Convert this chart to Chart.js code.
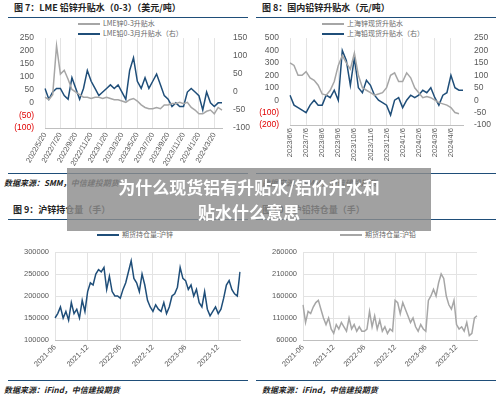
<!DOCTYPE html>
<html><head><meta charset="utf-8">
<script src="https://cdn.jsdelivr.net/npm/chart.js@4"></script>
<style>
body{margin:0;width:500px;height:400px;background:#fff;position:relative;overflow:hidden;font-family:"Noto Sans CJK SC",sans-serif}
.t{position:absolute;font-size:9px;font-weight:bold;color:#222;white-space:nowrap}
.s{position:absolute;font-size:8px;font-style:italic;font-weight:bold;color:#222;white-space:nowrap;font-family:"Noto Sans CJK SC","Liberation Serif",serif}
.h{position:absolute;height:1px;background:#1f4e79}
.c{position:absolute}
.lg{position:absolute;font-size:7px;color:#666;white-space:nowrap}
.lg i{display:inline-block;width:22px;height:2px;vertical-align:middle;margin-right:3px}
#ov{position:absolute;left:67px;top:168px;width:364px;height:63px;background:rgba(140,140,140,0.82);color:#fff;font-weight:bold;font-size:17px;text-align:center;line-height:25px;padding-top:6px;box-sizing:border-box}
</style></head><body>
<div class="t" style="left:14px;top:1px">图 7：LME 铅锌升贴水（0-3）（美元/吨）</div>
<div class="t" style="left:262px;top:1px">图 8：国内铅锌升贴水（元/吨）</div>
<div class="h" style="left:8px;top:17px;width:240px"></div>
<div class="h" style="left:256px;top:17px;width:240px"></div>
<div class="lg" style="left:78px;top:18px"><i style="background:#a6a6a6"></i>LME锌0-3升贴水</div>
<div class="lg" style="left:78px;top:28px"><i style="background:#1f4e79"></i>LME铅0-3月升贴水（右）</div>
<div class="lg" style="left:322px;top:18px"><i style="background:#a6a6a6"></i>上海锌现货升贴水</div>
<div class="lg" style="left:322px;top:28px"><i style="background:#1f4e79"></i>上海铅现货升贴水（右）</div>
<div class="h" style="left:8px;top:173px;width:240px"></div>
<div class="h" style="left:256px;top:173px;width:240px"></div>
<div class="s" style="left:4px;top:177px">数据来源：SMM，中信建投期货</div>
<div class="s" style="left:262px;top:177px">数据来源：SMM，中信建投期货</div>
<div class="t" style="left:13px;top:203px">图 9：沪锌持仓量（手）</div>
<div class="t" style="left:262px;top:203px">图 10：沪铅持仓量（手）</div>
<div class="h" style="left:8px;top:219px;width:240px"></div>
<div class="h" style="left:256px;top:219px;width:240px"></div>
<div class="lg" style="left:97px;top:229px"><i style="background:#1f4e79"></i>期货持仓量:沪锌</div>
<div class="lg" style="left:340px;top:229px"><i style="background:#a6a6a6"></i>期货持仓量:沪铅</div>
<div class="h" style="left:8px;top:380px;width:240px"></div>
<div class="h" style="left:256px;top:380px;width:240px"></div>
<div class="s" style="left:4px;top:384px">数据来源：iFind，中信建投期货</div>
<div class="s" style="left:262px;top:384px">数据来源：iFind，中信建投期货</div>
<div class="c" style="left:0;top:30px;width:250px;height:140px"><canvas id="c7"></canvas></div>
<div class="c" style="left:250px;top:30px;width:250px;height:140px"><canvas id="c8"></canvas></div>
<div class="c" style="left:0;top:240px;width:250px;height:130px"><canvas id="c9"></canvas></div>
<div class="c" style="left:250px;top:240px;width:250px;height:130px"><canvas id="c10"></canvas></div>
<div id="ov">为什么现货铝有升贴水/铝价升水和<br>贴水什么意思</div>
<script>
// ---- Chart 7 ----
const dates7 = [];
for (let y=2022,m=5,i=0;i<24;i++){ if(i>0)dates7.push(y+"/"+m+"/5"); dates7.push(y+"/"+m+"/20"); m++; if(m>12){m=1;y++;} }
const ticks7 = ["2022/5/20","2022/7/20","2022/9/20","2022/11/20","2023/1/20","2023/3/20","2023/5/20","2023/7/20","2023/9/20","2023/11/20","2024/1/20","2024/3/20"];
const zinc7 = [20,10,30,220,110,125,90,50,40,30,20,20,15,20,20,15,20,15,10,10,5,0,10,15,5,-10,-20,-25,-25,-20,-25,-10,-10,-5,-5,0,-5,0,-20,-30,-45,-45,-35,-30,-45,-20,-30];
const lead7 = [10,-20,0,10,10,-10,-20,40,10,-20,10,60,30,10,-10,0,10,20,10,20,0,-20,60,95,30,10,40,10,30,50,20,-10,-20,-40,-30,-40,-40,0,10,0,-10,-50,0,-30,-40,-30,-30];
// ---- Chart 8 ----
const dates8 = [];
for (let y=2023,m=6,i=0;i<11;i++){ for(const d of [6,13,20,27]) dates8.push(y+"/"+m+"/"+d); m++; if(m>12){m=1;y++;} }
const ticks8 = ["2023/6/6","2023/7/6","2023/8/6","2023/9/6","2023/10/6","2023/11/6","2023/12/6","2024/1/6","2024/2/6","2024/3/6","2024/4/6"];
const zinc8 = [300,280,200,200,230,180,160,120,50,40,80,150,280,360,300,250,380,200,100,80,60,40,50,60,100,200,220,150,150,220,180,100,60,20,30,20,0,-20,-30,-40,-60,-100,-110];
const lead8 = [20,-20,-30,-40,-50,-20,0,-20,-20,20,10,40,0,200,160,60,170,50,30,80,60,20,0,-10,-20,-60,0,10,-30,0,20,10,20,40,30,50,10,-20,20,30,100,50,40,40];
// ---- Chart 9/10 ----
const dates9 = [];
for (let y=2021,m=6,i=0;i<35;i++){ const s=y+"-"+String(m).padStart(2,"0"); dates9.push(s); if(i<34)dates9.push(s+"b"); m++; if(m>12){m=1;y++;} }
const ticks9 = ["2021-06","2021-12","2022-06","2022-12","2023-06","2023-12"];
const zincOI = [150,160,175,150,165,145,185,160,170,150,190,165,210,230,225,250,260,255,265,215,245,210,200,200,195,215,230,255,280,240,230,210,250,225,190,175,165,180,170,165,185,160,175,200,205,220,265,240,235,215,225,200,215,185,175,210,170,155,165,175,160,170,195,225,235,215,205,200,255];
const leadOI = [140,100,125,120,135,145,150,130,110,95,110,85,75,95,85,100,90,80,110,85,95,80,90,80,80,85,125,90,115,85,105,80,90,75,85,80,150,145,120,145,130,115,100,110,90,80,95,85,80,150,160,175,160,190,210,200,160,140,130,150,95,85,90,80,100,70,75,110,115];

const BLUE="#1f4e79", GRAY="#a6a6a6", TXT="#595959";
Chart.defaults.font.family="Liberation Sans, Arial, sans-serif";
Chart.defaults.font.size=8;
Chart.defaults.color=TXT;
function fit(w){return {afterFit(s){ if(s.isHorizontal()) s.height=w; else s.width=w; }};}
function xScale(labels, shown, h, rot){
  return Object.assign({type:'category', grid:{drawTicks:false,color:(c)=>shown.includes(labels[c.index])?'#e3e3e3':'rgba(0,0,0,0)'},
   border:{color:'#bfbfbf'},
   ticks:{autoSkip:false,maxRotation:rot,minRotation:rot,padding:3,font:{size:7.5},
     callback:function(v,i){const l=labels[i];return shown.includes(l)?l:'';}}}, fit(h));
}
function line(data, color, axis){return {data, borderColor:color, borderWidth:1.5, pointRadius:0, tension:0, yAxisID:axis};}
const neg = (v)=> v<0 ? '('+(-v)+')' : String(v);
const plain = (v)=> String(v);
const negColor = (c)=> c.tick && c.tick.value<0 ? '#e00000' : TXT;
const base = {responsive:true, maintainAspectRatio:false, animation:false, plugins:{legend:{display:false},tooltip:{enabled:false}}};
function yAx(pos,min,max,step,w,cb,col,grid){
  return Object.assign({position:pos,min,max,grid:grid?{color:'#e3e3e3',drawTicks:false}:{display:false},border:{display:false},
    ticks:{autoSkip:false,stepSize:step,callback:cb,color:col||TXT,padding:grid?6:3,font:{size:grid?7.5:8.5}}},fit(w));
}

new Chart(c7,{type:'line',data:{labels:dates7,datasets:[line(zinc7,GRAY,'y'),line(lead7,BLUE,'y1')]},
 options:Object.assign({},base,{layout:{padding:{top:6}},scales:{
  x:xScale(dates7,ticks7,42,60),
  y:yAx('left',-100,250,50,45,neg,negColor),
  y1:yAx('right',-100,150,50,28,plain)
 }})});

new Chart(c8,{type:'line',data:{labels:dates8,datasets:[line(zinc8,GRAY,'y'),line(lead8,BLUE,'y1')]},
 options:Object.assign({},base,{layout:{padding:{top:7}},scales:{
  x:xScale(dates8,ticks8,45,90),
  y:yAx('left',-200,500,100,40,neg,negColor),
  y1:yAx('right',-100,250,50,37,plain)
 }})});

function oiChart(el,data,color,min,max,step,left,right){
 new Chart(el,{type:'line',data:{labels:dates9,datasets:[line(data.map(v=>v*1000),color,'y')]},
 options:Object.assign({},base,{layout:{padding:{top:12,right:right}},scales:{
  x:xScale(dates9,ticks9,30,45),
  y:yAx('left',min,max,step,left,plain,TXT,true)
 }})});
}
oiChart(c9,zincOI,BLUE,100000,300000,50000,55,10);
oiChart(c10,leadOI,GRAY,60000,260000,50000,53,23);
</script></body></html>
